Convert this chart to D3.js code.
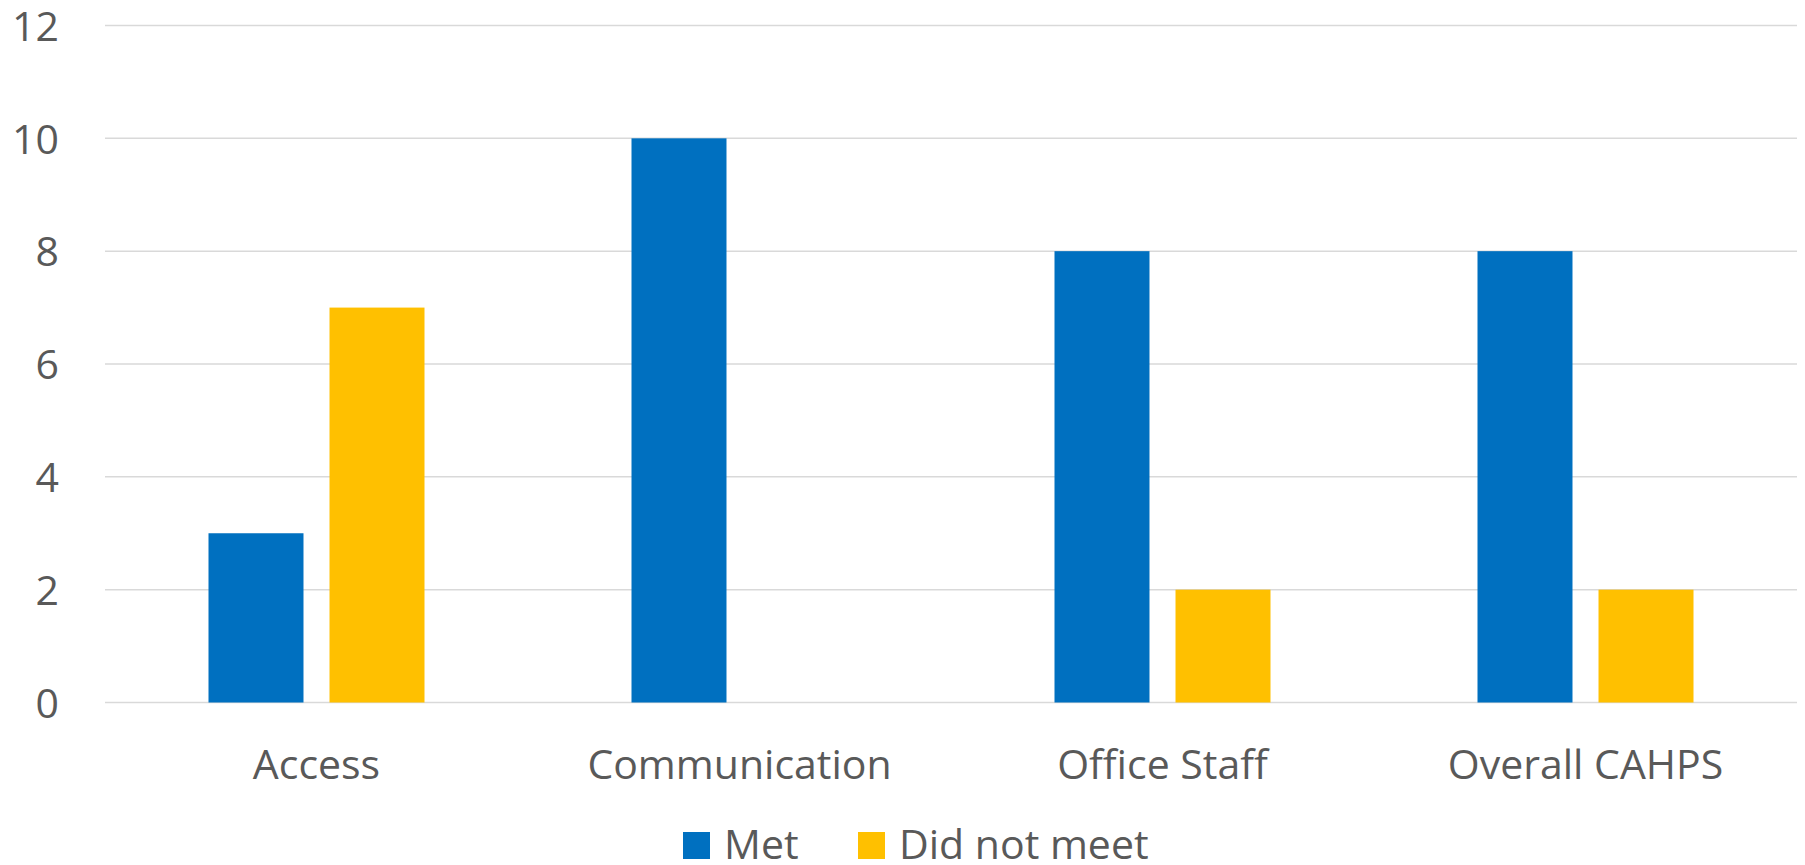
<!DOCTYPE html>
<html>
<head>
<meta charset="utf-8">
<script src="https://cdn.jsdelivr.net/npm/d3@7"></script>
<style>
  html, body { margin: 0; padding: 0; background: #fff; }
  svg { display: block; }
  text { font-family: "Open Sans", "Noto Sans", sans-serif; fill: #595959; }
</style>
</head>
<body>
<svg id="chart" width="1805" height="865"></svg>
<script>
// Survey domains and counts per result
const categories = ["Access", "Communication", "Office Staff", "Overall CAHPS"];
const seriesNames = ["Met", "Did not meet"];
const metValues = [3, 10, 8, 8];
const didNotMeetValues = [7, 0, 2, 2];
const yTicks = [0, 2, 4, 6, 8, 10, 12];
const colors = ["#0070C0", "#FFC000"];

const svg = d3.select("#chart");
const plot = { left: 105, right: 1797, top: 25.5, bottom: 702.5 };
const groupWidth = 216;

const x = d3.scaleBand().domain(categories).range([plot.left, plot.right]).paddingInner(0).paddingOuter(0);
const inner = d3.scaleBand().domain(seriesNames).range([0, groupWidth]).paddingInner(0.215).paddingOuter(0);
const y = d3.scaleLinear().domain([0, 12]).range([plot.bottom, plot.top]);

// gridlines
svg.append("g").selectAll("line").data(yTicks).join("line")
  .attr("x1", plot.left).attr("x2", plot.right)
  .attr("y1", d => y(d)).attr("y2", d => y(d))
  .attr("stroke", "#D9D9D9").attr("stroke-width", 1.5);

// y-axis labels
const yAxis = d3.axisLeft(y).tickValues(yTicks).tickSize(0).tickPadding(0);
const gy = svg.append("g").attr("transform", "translate(59,0)").call(yAxis);
gy.select(".domain").remove();
gy.selectAll("text").attr("font-size", 41).attr("font-family", "Open Sans").attr("fill", "#595959").attr("dy", "0.36em");

// bars
const rows = categories.map((c, i) => ({ cat: c, vals: [metValues[i], didNotMeetValues[i]] }));
const groups = svg.append("g").selectAll("g").data(rows).join("g")
  .attr("transform", d => `translate(${x(d.cat) + (x.bandwidth() - groupWidth) / 2},0)`);
groups.selectAll("rect").data(d => d.vals.map((v, j) => ({ v, s: seriesNames[j], j })))
  .join("rect")
  .filter(d => d.v > 0)
  .attr("x", d => inner(d.s))
  .attr("width", inner.bandwidth())
  .attr("y", d => y(d.v))
  .attr("height", d => y(0) - y(d.v))
  .attr("fill", d => colors[d.j]);

// category labels
const xAxis = d3.axisBottom(x).tickSize(0).tickPadding(0);
const gx = svg.append("g").attr("transform", "translate(0,779)").call(xAxis);
gx.select(".domain").remove();
gx.selectAll("text").attr("font-size", 41).attr("font-family", "Open Sans").attr("fill", "#595959").attr("dy", 0);

// legend
const legendItems = [
  { name: seriesNames[0], color: colors[0], x: 683 },
  { name: seriesNames[1], color: colors[1], x: 858 }
];
const lg = svg.append("g").selectAll("g").data(legendItems).join("g")
  .attr("transform", d => `translate(${d.x},0)`);
lg.append("rect").attr("x", 0).attr("y", 832).attr("width", 27).attr("height", 27).attr("fill", d => d.color);
lg.append("text").attr("x", 41).attr("y", 859).attr("font-size", 41).text(d => d.name);
</script>
</body>
</html>
